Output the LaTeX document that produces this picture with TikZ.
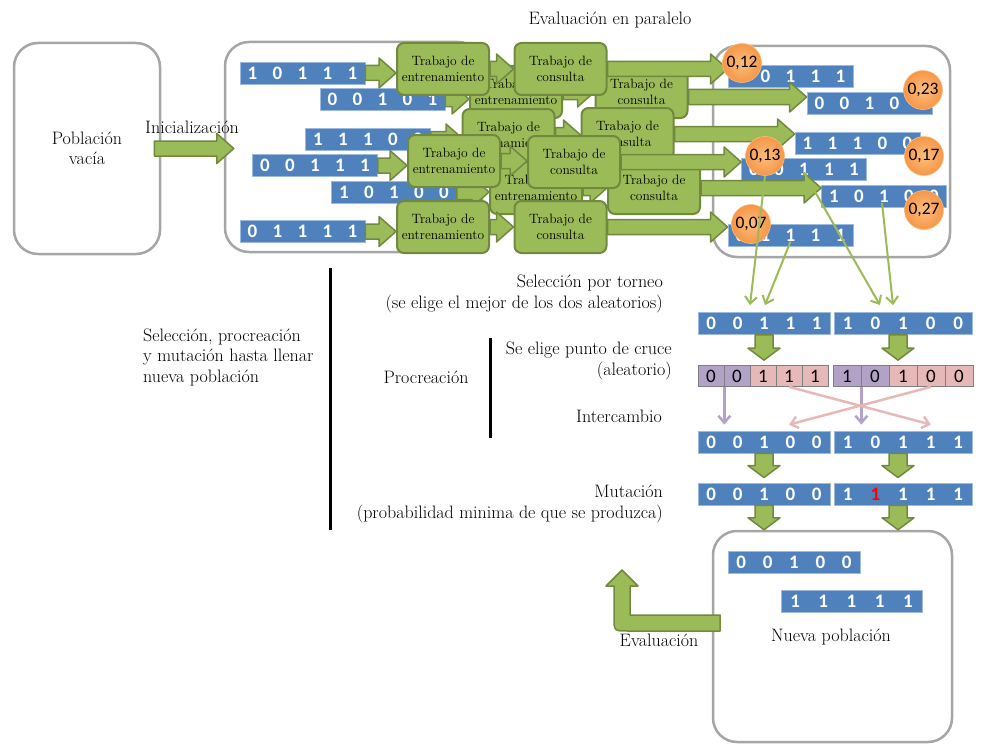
\documentclass[tikz,border=0pt]{standalone}
\usepackage{fontspec}
\newfontfamily\carlito{Carlito}
\usetikzlibrary{arrows.meta,calc}

\definecolor{jobgreen}{HTML}{9BBB59}
\definecolor{jobedge}{HTML}{71893F}
\definecolor{bitblue}{HTML}{4F81BD}
\definecolor{bitedge}{HTML}{9DB9DE}
\definecolor{boxgray}{HTML}{A6A6A6}
\definecolor{fitorange}{HTML}{F79646}
\definecolor{fitlight}{HTML}{FBBE80}
\definecolor{keepviolet}{HTML}{B3A2C7}
\definecolor{swaprose}{HTML}{E6B9B8}
\definecolor{celledge}{HTML}{7F7F7F}

\newcommand\lblfont{\fontsize{18}{20.5}\selectfont}
\newcommand\jobfont{\fontsize{13.5}{16}\selectfont}
\newcommand\bitfont{\carlito\bfseries\fontsize{19}{20}\selectfont}
\newcommand\cellfont{\carlito\fontsize{19}{20}\selectfont}
\newcommand\fitfont{\carlito\fontsize{17.5}{18}\selectfont}
\newcommand\chromo[6][25]{\makebox[#1pt]{#2}\makebox[#1pt]{#3}\makebox[#1pt]{#4}\makebox[#1pt]{#5}\makebox[#1pt]{#6}}

\tikzset{
  popbox/.style={draw=boxgray,line width=2.5pt,rounded corners=24pt,fill=white},
  bitbar/.style={fill=bitblue,draw=bitedge,line width=0.8pt,text=white,font=\bitfont,inner sep=0pt,minimum height=22pt},
  job/.style={fill=jobgreen,draw=jobedge,line width=2pt,rounded corners=7pt,minimum width=92pt,minimum height=52pt,inner sep=1pt,align=center,font=\jobfont},
  fitval/.style={circle,minimum size=39pt,inner sep=0pt,draw=fitlight,line width=0.6pt,inner color=fitlight,outer color=fitorange,font=\fitfont},
  gene/.style={draw=celledge,line width=0.7pt,minimum height=21pt,inner sep=0pt,font=\cellfont},
  headcell/.style={gene,fill=keepviolet},
  tailcell/.style={gene,fill=swaprose},
  harrow/.style={fill=jobgreen,draw=jobedge,line width=1.5pt,line join=round,
    to path={let \p1=(\tikztostart),\p2=(\tikztotarget) in
      (\x1,\y1+7.5) -- (\x2-17,\y1+7.5) -- (\x2-17,\y1+15) -- (\x2,\y1) -- (\x2-17,\y1-15) -- (\x2-17,\y1-7.5) -- (\x1,\y1-7.5) -- cycle}},
  varrow/.style={fill=jobgreen,draw=jobedge,line width=1.5pt,line join=round,
    to path={let \p1=(\tikztostart),\p2=(\tikztotarget) in
      (\x1-9,\y1) -- (\x1-9,\y2+12) -- (\x1-16,\y2+12) -- (\x1,\y2) -- (\x1+16,\y2+12) -- (\x1+9,\y2+12) -- (\x1+9,\y1) -- cycle}},
  selline/.style={draw=jobgreen,line width=2pt,-{Straight Barb[length=7pt,width=12pt]}},
  keeparrow/.style={draw=keepviolet,line width=2.5pt,-{Straight Barb[length=7pt,width=12pt]}},
  swaparrow/.style={draw=swaprose,line width=2.5pt,-{Straight Barb[length=7pt,width=12pt]}},
  lbl/.style={font=\lblfont,inner sep=0pt},
  bracket/.style={line width=3pt}
}

\begin{document}
\begin{tikzpicture}[x=1pt,y=-1pt]
\useasboundingbox (0,0) rectangle (983,752);

% populations
\node[popbox,minimum width=146pt,minimum height=211pt,align=center,font=\lblfont] (emptypop) at (87,148.5) {Población\\vacía};
\node[popbox,minimum width=257pt,minimum height=210pt] (midpop) at (353.5,147) {};
\node[popbox,minimum width=237pt,minimum height=211pt] (rightpop) at (831.5,151.5) {};
\node[popbox,minimum width=239pt,minimum height=211pt] (newpop) at (832.5,636.5) {};

\node[lbl] (paralbl) at (610,20) {Evaluación en paralelo};
\node[lbl] (initlbl) at (192,127) {Inicialización};
\draw[harrow] ([xshift=-7pt]emptypop.east) to ([xshift=10pt]midpop.west);

% evaluated individuals
\node[bitbar] (r1) at (790.5,76.5) {\chromo{1}{0}{1}{1}{1}};
\node[bitbar] (r2) at (869.5,103.5) {\chromo{0}{0}{1}{0}{1}};
\node[bitbar] (r3) at (857.5,143.5) {\chromo{1}{1}{1}{0}{0}};
\node[bitbar] (r4) at (804,169.5) {\chromo{0}{0}{1}{1}{1}};
\node[bitbar] (r5) at (884,196) {\chromo{1}{0}{1}{0}{0}};
\node[bitbar] (r6) at (790.5,235.5) {\chromo{0}{1}{1}{1}{1}};

% jobs, rows behind
\node[bitbar] (b2) at (382.5,99) {\chromo{0}{0}{1}{0}{1}};
\node[job] (t2) at (516,92) {Trabajo de\\entrenamiento};
\node[job] (c2) at (641.5,92) {Trabajo de\\consulta};
\draw[harrow] (b2.east) to (t2.west);
\draw[harrow] (t2.east) to (c2.west);
\draw[harrow] ([yshift=-5pt]c2.east) to (r2.west);

\node[bitbar] (b3) at (368,139) {\chromo{1}{1}{1}{0}{0}};
\draw[harrow] (b3.east) to (463,135);
\node[job] (t3) at (508.5,135) {Trabajo de\\entrenamiento};
\node[job] (c3) at (627.5,134) {Trabajo de\\consulta};
\draw[harrow] (t3.east) to (c3.west);
\draw[harrow] (c3.east) to (r3.west);

\node[bitbar] (b5) at (394,192) {\chromo{1}{0}{1}{0}{0}};
\node[job] (t5) at (536,188) {Trabajo de\\entrenamiento};
\node[job] (c5) at (654,188) {Trabajo de\\consulta};
\draw[harrow] (b5.east) to (t5.west);
\draw[harrow] (t5.east) to (c5.west);
\draw[harrow] (c5.east) to (r5.west);

% jobs, rows in front
\node[bitbar] (b1) at (302.5,73) {\chromo{1}{0}{1}{1}{1}};
\node[job] (t1) at (443,69) {Trabajo de\\entrenamiento};
\node[job] (c1) at (560.5,69) {Trabajo de\\consulta};
\draw[harrow] (b1.east) to (t1.west);
\draw[harrow] (t1.east) to (c1.west);
\draw[harrow] (c1.east) to (r1.west);

\node[bitbar] (b4) at (315,165.5) {\chromo{0}{0}{1}{1}{1}};
\node[job] (t4) at (454,161) {Trabajo de\\entrenamiento};
\node[job] (c4) at (574,162) {Trabajo de\\consulta};
\draw[harrow] (b4.east) to (t4.west);
\draw[harrow] (t4.east) to (c4.west);
\draw[harrow] (c4.east) to (r4.west);

\node[bitbar] (b6) at (302.5,231.5) {\chromo{0}{1}{1}{1}{1}};
\node[job] (t6) at (443,227) {Trabajo de\\entrenamiento};
\node[job] (c6) at (560.5,227) {Trabajo de\\consulta};
\draw[harrow] (b6.east) to (t6.west);
\draw[harrow] (t6.east) to (c6.west);
\draw[harrow] (c6.east) to (r6.west);

% fitness
\foreach \n/\x/\y/\v in {f12/742/63/{0,12},f23/923/90/{0,23},f13/765/156/{0,13},f17/924/156/{0,17},f27/924/210/{0,27},f07/751/224/{0,07}}
  \node[fitval] (\n) at (\x,\y) {\v};

% tournament
\node[lbl,align=right,anchor=east] (tourlbl) at (663,294) {Selección por torneo\\(se elige el mejor de los dos aleatorios)};
\node[bitbar] (selA) at (764,323.5) {\chromo[26.4]{0}{0}{1}{1}{1}};
\node[bitbar] (selB) at (903,323.5) {\chromo[27.6]{1}{0}{1}{0}{0}};
\draw[selline] (f13.south) -- ([shift={(-14,-7)}]selA.north);
\draw[selline] ([yshift=-6pt]r6.center) -- ([shift={(1,-7)}]selA.north);
\draw[selline] ([yshift=-3pt]r4.center) -- ([shift={(-23,-7)}]selB.north);
\draw[selline] ([shift={(-2pt,-7pt)}]r5.center) -- ([shift={(-10,-7)}]selB.north);

% crossover
\node[lbl,align=right,anchor=east] (cutlbl) at (672,361) {Se elige punto de cruce\\(aleatorio)};
\node[lbl] (procrlbl) at (426,377) {Procreación};
\node[lbl,anchor=east] (swaplbl) at (662,416) {Intercambio};
\foreach \i/\v/\s in {1/0/headcell,2/0/headcell,3/1/tailcell,4/1/tailcell,5/1/tailcell}
  \node[\s,minimum width=26pt] (xa\i) at ({698+26*(\i-0.5)},376) {\v};
\foreach \i/\v/\s in {1/1/headcell,2/0/headcell,3/1/tailcell,4/0/tailcell,5/0/tailcell}
  \node[\s,minimum width=28pt] (xb\i) at ({833+28*(\i-0.5)},376) {\v};
\draw[varrow] (selA.south) to ([yshift=5pt]xa3.north);
\draw[varrow] ([xshift=-5pt]selB.south) to ([yshift=5pt]xb3.north);

\node[bitbar] (iA) at (764,442) {\chromo[26.4]{0}{0}{1}{0}{0}};
\node[bitbar] (iB) at (903,442) {\chromo[27.6]{1}{0}{1}{1}{1}};
\draw[keeparrow] (xa1.south east) -- ($(xa1.south east |- iA.north)+(0,-6)$);
\draw[keeparrow] (xb1.south east) -- ($(xb1.south east |- iB.north)+(0,-6)$);
\draw[swaparrow] (xa4.south) -- ($(xb4.south |- iB.north)+(0,-6)$);
\draw[swaparrow] (xb4.south) -- ($(xa4.south |- iA.north)+(0,-6)$);

% mutation
\node[lbl,align=right,anchor=east] (mutlbl) at (663,504) {Mutación\\(probabilidad minima de que se produzca)};
\node[bitbar] (mA) at (764,494) {\chromo[26.4]{0}{0}{1}{0}{0}};
\node[bitbar] (mB) at (903,494) {\chromo[27.6]{1}{\textcolor{red}{1}}{1}{1}{1}};
\draw[varrow] (iA.south) to ([yshift=5pt]mA.north);
\draw[varrow] ([xshift=-5pt]iB.south) to ([yshift=5pt]mB.north);
\draw[varrow] (mA.south) to (newpop.north);
\draw[varrow] ([xshift=-5pt]mB.south) to (newpop.north);

% new population
\node[bitbar] (nA) at (794,562) {\chromo[26.4]{0}{0}{1}{0}{0}};
\node[bitbar] (nB) at (851.5,601.5) {\chromo[28.2]{1}{1}{1}{1}{1}};
\node[lbl] (newlbl) at (831,637) {Nueva población};
\draw[fill=jobgreen,draw=jobedge,line width=1.5pt,line join=round] (720,615) -- (630,615) -- (630,586) -- (638,586) -- (622,570) -- (606,586) -- (614,586) -- (614,617) .. controls (614,631) .. (628,631) -- (720,631) -- cycle;
\node[lbl] (evallbl) at (659,640) {Evaluación};

% brackets
\node[lbl,align=left,anchor=west] (looplbl) at (143,357) {Selección, procreación\\y mutación hasta llenar\\nueva población};
\draw[bracket] (330,268) -- (330,530);
\draw[bracket] (490,338) -- (490,438);
\end{tikzpicture}
\end{document}
